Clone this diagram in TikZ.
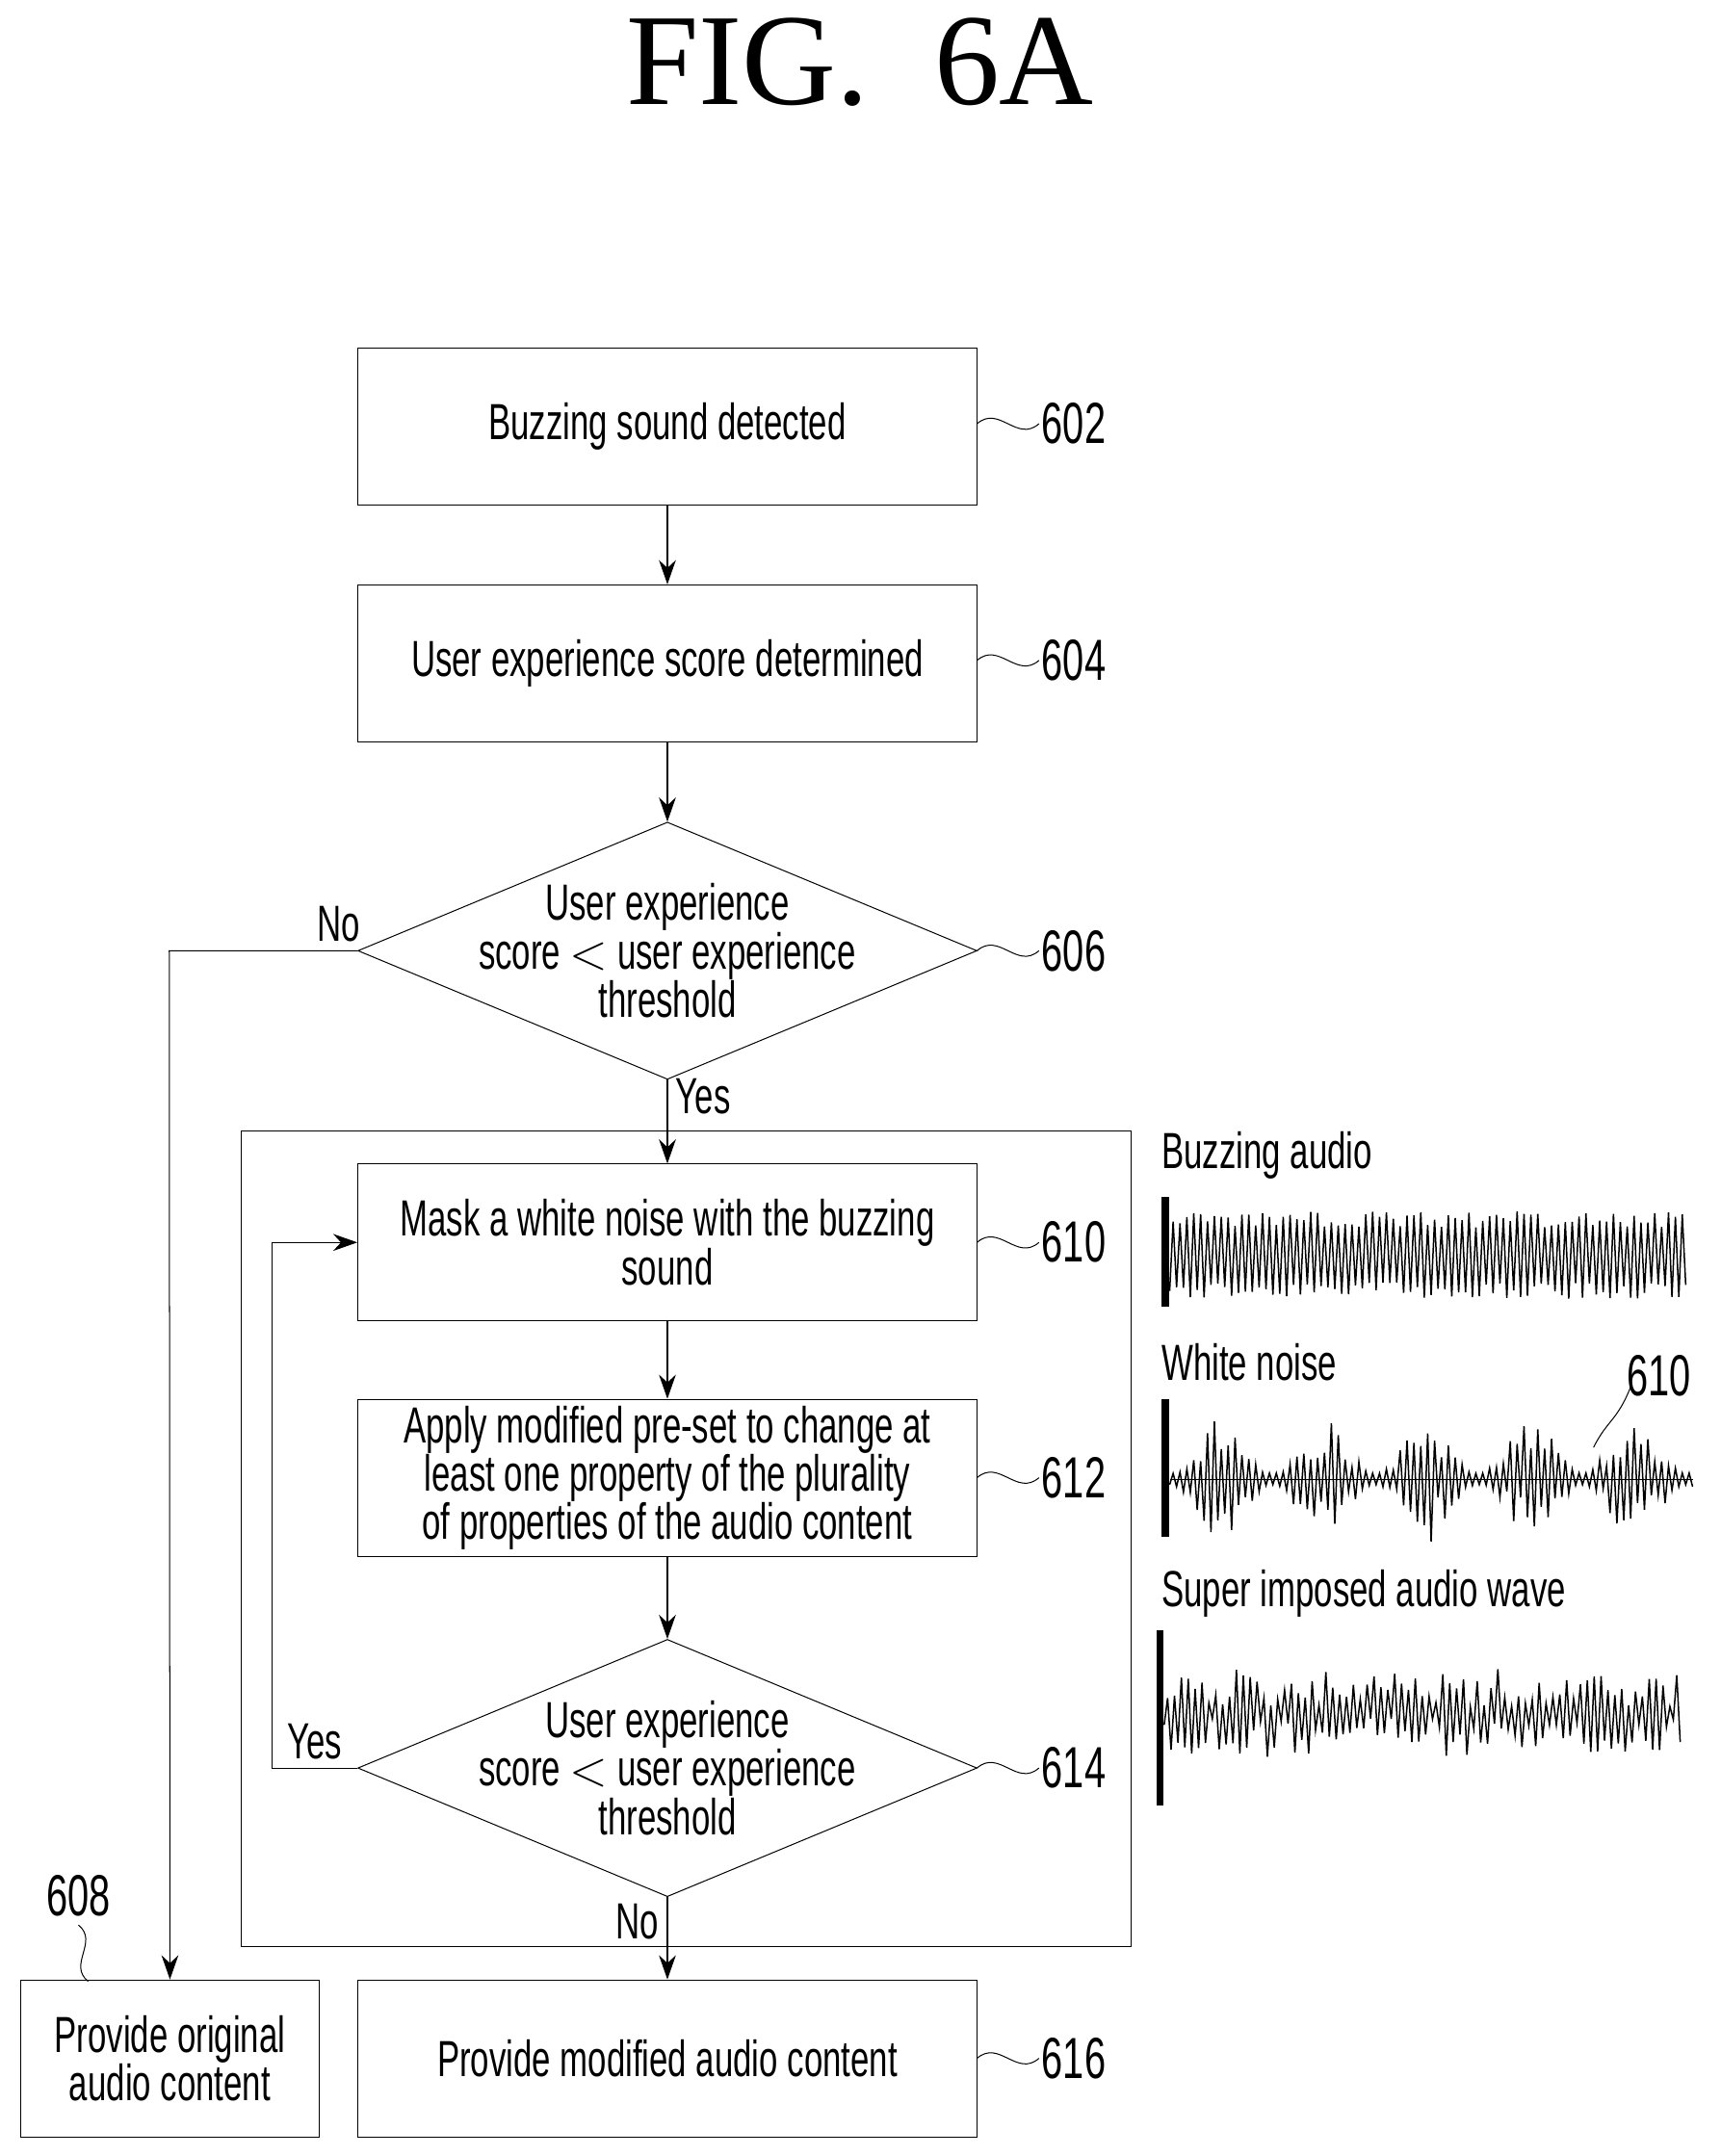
\documentclass[tikz,border=0pt]{standalone}
\usepackage{fontspec}
\setmainfont{Liberation Sans}[FakeStretch=0.66]
\newfontfamily\titlefont{Liberation Serif}
\usetikzlibrary{shapes.geometric,arrows.meta}
\begin{document}
\begin{tikzpicture}[x=0.02cm,y=-0.02cm,
  every node/.style={font=\fontsize{21pt}{20pt}\selectfont},
  proc/.style={draw, rectangle, minimum width=9cm, minimum height=2.28cm, align=center, inner sep=2pt},
  decide/.style={draw, diamond, minimum width=9cm, minimum height=3.74cm, inner sep=0pt},
  num/.style={right, inner sep=1pt, font=\fontsize{24pt}{28pt}\selectfont},
  flow/.style={-{Stealth[length=10pt,width=7pt]}},
  wave/.style={line width=0.6pt}]
\useasboundingbox (0,0) rectangle (1250,1567);
\node[font=\titlefont\fontsize{54pt}{60pt}\selectfont] (title) at (625,45) {FIG.\ \ 6A};

% main flow
\node[proc] (b602) at (485,310) {Buzzing sound detected};
\node[proc] (b604) at (485,482) {User experience score determined};
\node[decide] (d606) at (485,691) {};
\node[align=center] at (d606) {User experience\\score $<$ user experience\\threshold};
\draw (175,822) rectangle (822,1415);
\node[proc] (b610) at (485,903) {Mask a white noise with the buzzing\\sound};
\node[proc] (b612) at (485,1074) {Apply modified pre-set to change at\\least one property of the plurality\\of properties of the audio content};
\node[decide] (d614) at (485,1285) {};
\node[align=center] at (d614) {User experience\\score $<$ user experience\\threshold};
\node[proc] (b616) at (485,1496) {Provide modified audio content};
\node[draw, rectangle, minimum width=4.34cm, minimum height=2.28cm, align=center] (b608) at (123.5,1496) {Provide original\\audio content};

% connectors
\draw[flow] (b602) -- (b604);
\draw[flow] (b604) -- (d606);
\draw[flow] (d606) -- node[pos=0.2, right]{Yes} (b610);
\draw[flow] (b610) -- (b612);
\draw[flow] (b612) -- (d614);
\draw[flow] (d614) -- node[pos=0.3, left]{No} (b616);
\draw[flow] (d606.west) -- (123,691) node[pos=0.1, above]{No} -- (b608.north);
\draw[flow] (d614.west) -- (198,1285) node[pos=0.5, above]{Yes} -- (198,903) -- (b610.west);

% reference numbers
\foreach \n/\y in {602/308,604/480,606/691,610/903,612/1074,614/1285,616/1496}
  \draw (710,\y) .. controls +(16,-14) and +(-16,14) .. (755,\y) node[num]{\n};
\node (n608) at (57,1378) {\fontsize{24pt}{28pt}\selectfont 608};
\draw (n608.south) .. controls +(15,12) and +(-15,-12) .. (64,1440);

% waveforms
\node[right] (t1) at (838,840) {Buzzing audio};
\node[right] (t2) at (838,990) {White noise};
\node[right] (t3) at (838,1158) {Super imposed audio wave};
\pgfmathsetseed{11}
\draw[line width=3pt] (847,870) -- (847,950);
\draw[wave] plot[domain=0:150, samples=151] ({850+2.5*\x}, {912+(26+6*rand)*(1-2*mod(round(\x),2))});
\draw[line width=3pt] (847,1017) -- (847,1117);
\draw (850,1075) -- (1230,1075);
\draw[wave] plot[domain=0:152, samples=153] ({850+2.5*\x}, {1075+(4+42*abs(sin(\x*6))^2*(0.6+0.4*rand))*(1-2*mod(round(\x),2))});
\draw[line width=3pt] (843,1185) -- (843,1312);
\draw[wave] plot[domain=0:150, samples=151] ({846+2.5*\x}, {1245+(18+14*rand)*(1-2*mod(round(\x),2))});
\node[num] (n610) at (1180,1000) {610};
\draw (1158,1052) .. controls +(10,-20) and +(-10,25) .. (1185,1008);
\end{tikzpicture}
\end{document}
